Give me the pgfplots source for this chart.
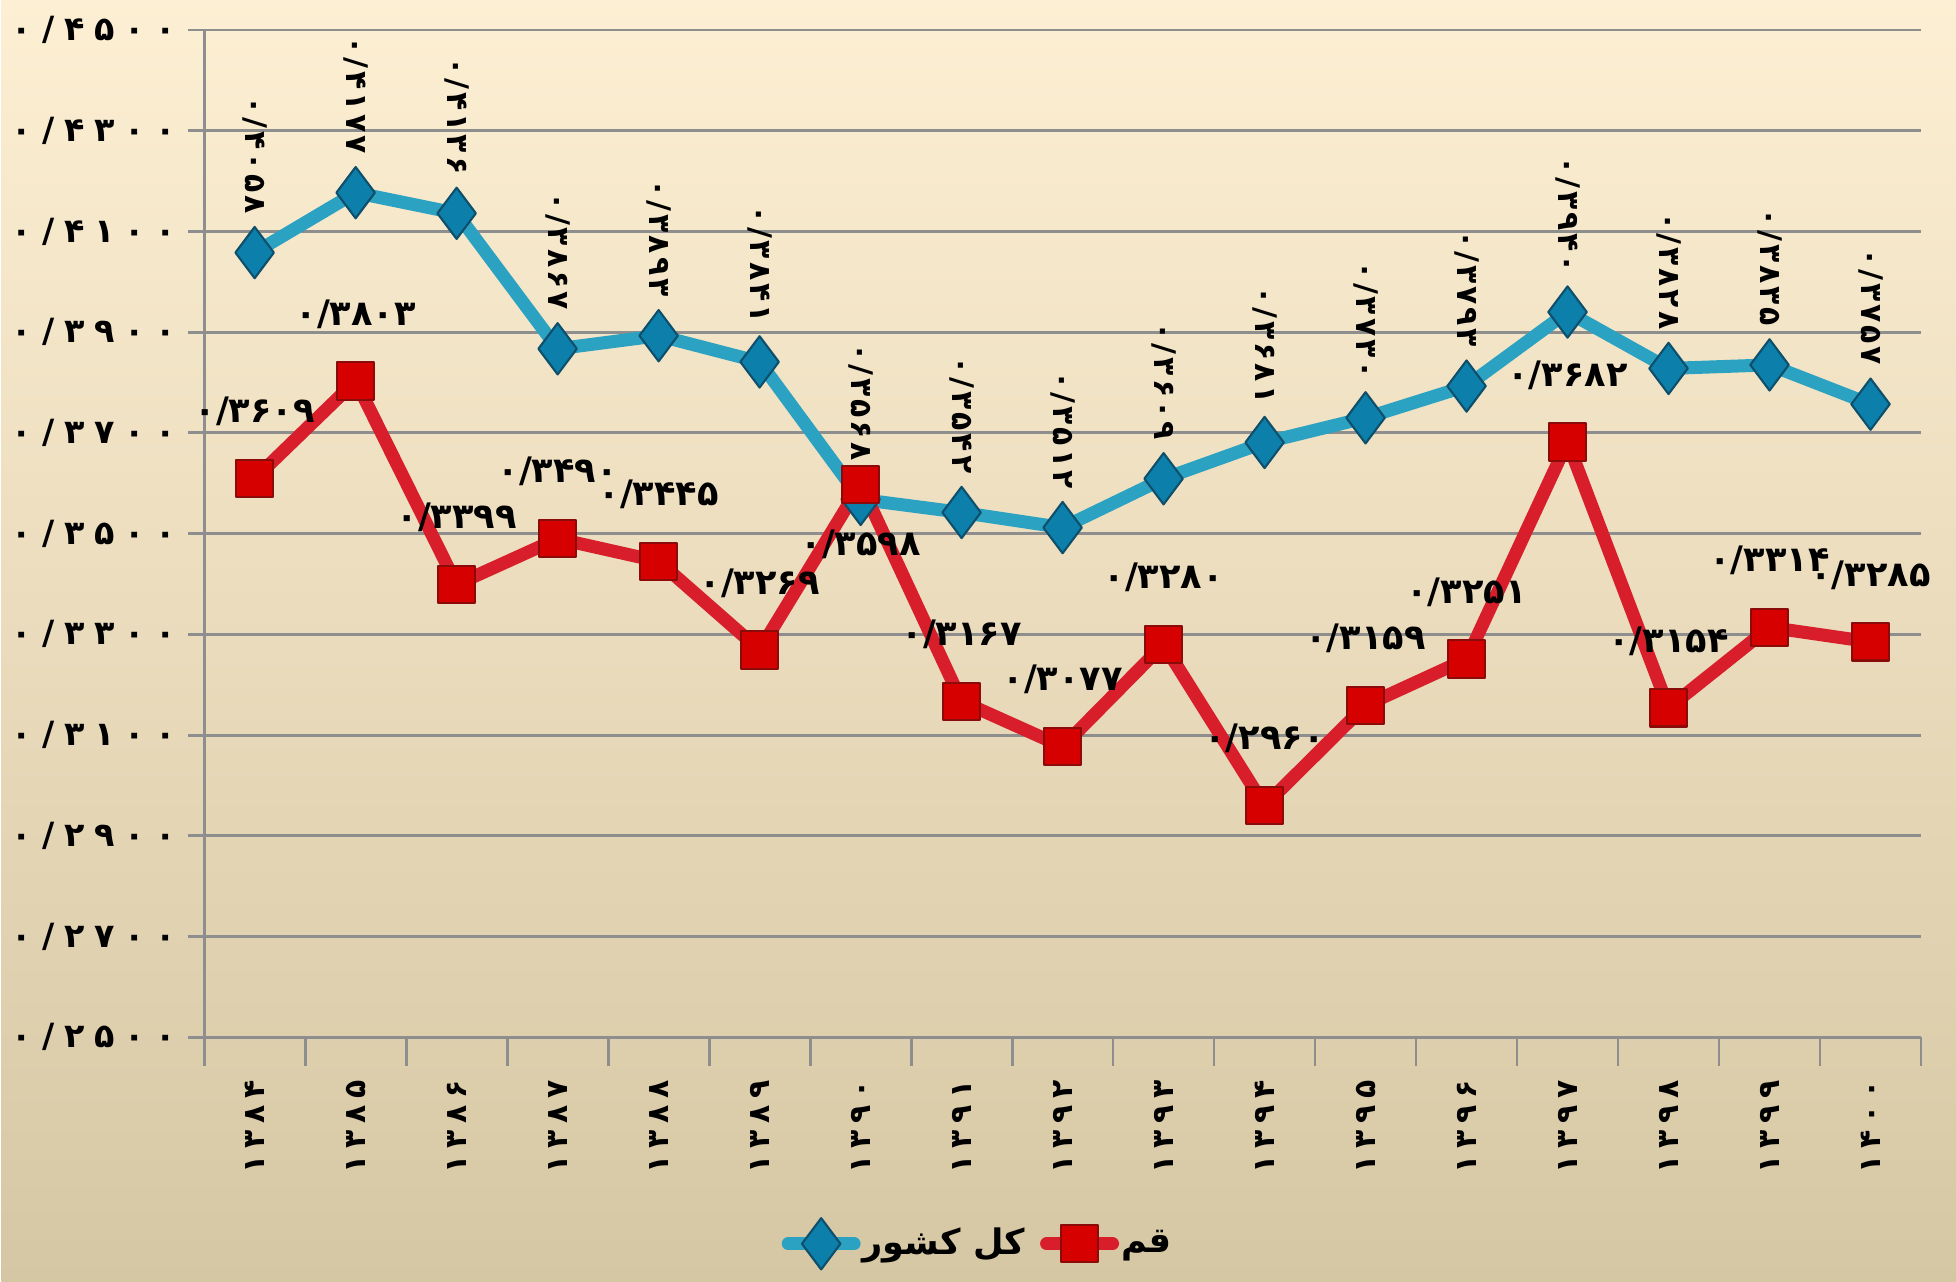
\documentclass[border=0pt]{standalone}
\usepackage{fontspec}
\usepackage{pgfplots}
\usepackage{pgfplotstable}
\pgfplotsset{compat=1.18}
\TeXXeTstate=1
\newfontfamily\pfont[Script=Arabic]{DejaVu Sans}
\newfontfamily\pnum[Script=Arabic,LetterSpace=30]{DejaVu Sans}
\newfontfamily\pnumx[Script=Arabic,LetterSpace=22]{DejaVu Sans}
\newfontfamily\pnumb[Script=Arabic,LetterSpace=10]{DejaVu Sans}
\definecolor{gridgray}{HTML}{8E8E8E}
\definecolor{bline}{HTML}{2CA2C3}
\definecolor{bfill}{HTML}{0C80AB}
\definecolor{bdraw}{HTML}{0E4F6C}
\definecolor{rline}{HTML}{D91E2B}
\definecolor{rfill}{HTML}{D60000}
\definecolor{rdraw}{HTML}{8B0A0A}
\definecolor{bgtop}{HTML}{FDEFD3}
\definecolor{bgmid}{HTML}{F3EAD3}
\definecolor{bgbot}{HTML}{D6C7A4}

\pgfplotstableread{
x y lbl
0 0.4058 ۰/۴۰۵۸
1 0.4177 ۰/۴۱۷۷
2 0.4136 ۰/۴۱۳۶
3 0.3867 ۰/۳۸۶۷
4 0.3893 ۰/۳۸۹۳
5 0.3841 ۰/۳۸۴۱
6 0.3568 ۰/۳۵۶۸
7 0.3542 ۰/۳۵۴۲
8 0.3512 ۰/۳۵۱۲
9 0.3609 ۰/۳۶۰۹
10 0.3681 ۰/۳۶۸۱
11 0.3730 ۰/۳۷۳۰
12 0.3793 ۰/۳۷۹۳
13 0.3940 ۰/۳۹۴۰
14 0.3828 ۰/۳۸۲۸
15 0.3835 ۰/۳۸۳۵
16 0.3757 ۰/۳۷۵۷
}\kol

\pgfplotstableread{
x y dy lbl
0 0.3609 0.67 ۰/۳۶۰۹
1 0.3803 0.67 ۰/۳۸۰۳
2 0.3399 0.67 ۰/۳۳۹۹
3 0.3490 0.67 ۰/۳۴۹۰
4 0.3445 0.67 ۰/۳۴۴۵
5 0.3269 0.67 ۰/۳۲۶۹
6 0.3598 -0.60 ۰/۳۵۹۸
7 0.3167 0.67 ۰/۳۱۶۷
8 0.3077 0.67 ۰/۳۰۷۷
9 0.3280 0.67 ۰/۳۲۸۰
10 0.2960 0.67 ۰/۲۹۶۰
11 0.3159 0.67 ۰/۳۱۵۹
12 0.3251 0.67 ۰/۳۲۵۱
13 0.3682 0.67 ۰/۳۶۸۲
14 0.3154 0.67 ۰/۳۱۵۴
15 0.3314 0.67 ۰/۳۳۱۴
16 0.3285 0.67 ۰/۳۲۸۵
}\qom

\begin{document}
\begin{tikzpicture}
\shade[top color=bgtop, middle color=bgmid, bottom color=bgbot] (0,0) rectangle (19.56cm,12.82cm);
\begin{axis}[
  at={(2.03cm,2.44cm)}, anchor=south west,
  width=17.18cm, height=10.08cm, scale only axis,
  xmin=-0.5, xmax=16.5, ymin=0.25, ymax=0.45,
  xtick={0,1,2,3,4,5,6,7,8,9,10,11,12,13,14,15,16},
  xticklabels={۱۳۸۴,۱۳۸۵,۱۳۸۶,۱۳۸۷,۱۳۸۸,۱۳۸۹,۱۳۹۰,۱۳۹۱,۱۳۹۲,۱۳۹۳,۱۳۹۴,۱۳۹۵,۱۳۹۶,۱۳۹۷,۱۳۹۸,۱۳۹۹,۱۴۰۰},
  xtick style={draw=none},
  ytick={0.25,0.27,0.29,0.31,0.33,0.35,0.37,0.39,0.41,0.43,0.45},
  yticklabels={۰/۲۵۰۰,۰/۲۷۰۰,۰/۲۹۰۰,۰/۳۱۰۰,۰/۳۳۰۰,۰/۳۵۰۰,۰/۳۷۰۰,۰/۳۹۰۰,۰/۴۱۰۰,۰/۴۳۰۰,۰/۴۵۰۰},
  axis x line*=bottom, axis y line*=left,
  axis line style={draw=gridgray, line width=0.8pt},
  ymajorgrids, grid style={draw=gridgray, line width=0.8pt},
  tick align=outside,
  major tick length=0.16cm,
  ytick style={draw=gridgray, line width=0.8pt},
  yticklabel style={font=\pnum\bfseries\fontsize{9.5}{11}\selectfont, anchor=east},
  xticklabel style={font=\pnumx\bfseries\fontsize{8.5}{10}\selectfont, rotate=90, anchor=east},
  xticklabel shift=0.15cm,
  legend columns=2,
  legend style={at={(0.452,-0.205)}, anchor=center, draw=none, fill=none,
    font=\pfont\bfseries\fontsize{10}{12}\selectfont,
    /tikz/every even column/.append style={column sep=0.08cm},
    /tikz/every odd column/.append style={column sep=-0.05cm}},
  legend image code/.code={\draw[mark repeat=2,mark phase=2,#1] plot coordinates {(0cm,0cm) (0.33cm,0cm) (0.66cm,0cm)};},
  clip=false,
]
\pgfplotsinvokeforeach{-0.5,0.5,1.5,2.5,3.5,4.5,5.5,6.5,7.5,8.5,9.5,10.5,11.5,12.5,13.5,14.5,15.5,16.5}{
  \draw[gridgray, line width=0.8pt] (axis cs:#1,0.25) -- ([yshift=-0.29cm]axis cs:#1,0.25);
}
\addplot[color=bline, line width=3.7pt, line join=round, line cap=round,
  mark=diamond*, mark size=7.3pt, mark options={fill=bfill, draw=bdraw, line width=0.6pt},
  point meta=explicit symbolic,
  nodes near coords,
  every node near coord/.append style={font=\pnumb\bfseries\fontsize{8.5}{10}\selectfont, text=black,
    yshift=0.38cm, rotate=-90, anchor=east, inner sep=0pt}]
  table[x=x, y=y, meta=lbl]{\kol};
\addlegendentry{\beginR کل کشور\endR}
\addplot[color=rline, line width=3.7pt, line join=round, line cap=round,
  mark=square*, mark size=5.3pt, mark options={fill=rfill, draw=rdraw, line width=0.6pt},
  point meta=explicit symbolic,
  visualization depends on={\thisrow{dy}\as\dy},
  nodes near coords,
  every node near coord/.append style={font=\pfont\bfseries\fontsize{10}{11}\selectfont, text=black,
    anchor=center, yshift=\dy cm, inner sep=0pt}]
  table[x=x, y=y, meta=lbl]{\qom};
\addlegendentry{\beginR قم\endR}
\end{axis}
\end{tikzpicture}
\end{document}
